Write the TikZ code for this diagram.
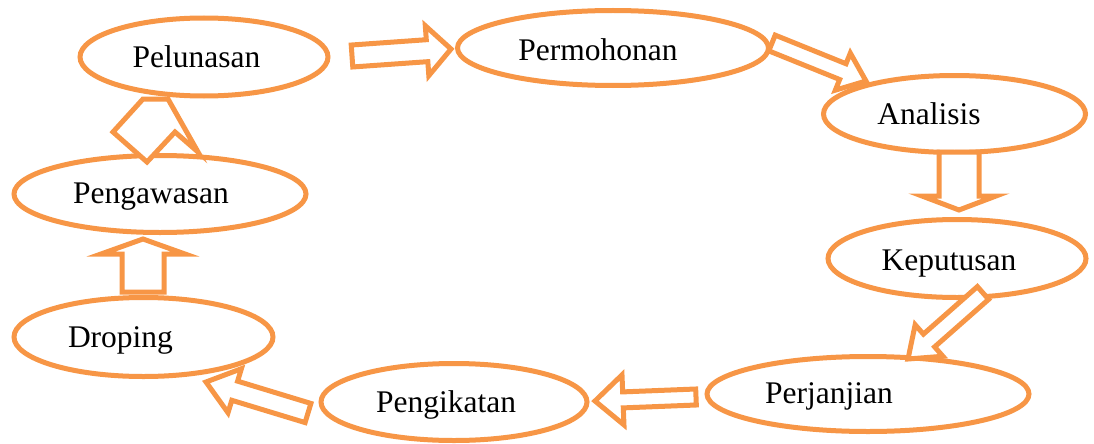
\documentclass[tikz,border=0pt]{standalone}
\usepackage{fontspec}
\setmainfont{Liberation Serif}
\usetikzlibrary{calc,shapes.geometric}
\definecolor{acc}{HTML}{F79646}
\tikzset{
  ell/.style={ellipse, draw=acc, line width=5pt, fill=white, inner sep=0pt},
  lbl/.style={anchor=base, font=\fontsize{31.5}{36}\selectfont, text=black, inner sep=0pt},
  barrow/.style={draw=acc, line width=5pt, fill=white, line join=miter},
}
% #1 tail, #2 tip, #3 shaft half width, #4 head half width, #5 head length
\newcommand\blockarrow[5]{%
  \coordinate (ba-n) at ($(#2)!#5!(#1)$);
  \filldraw[barrow] ($(#1)!#3!90:(#2)$) -- ($(ba-n)!#3!90:(#2)$) -- ($(ba-n)!#4!90:(#2)$)
    -- (#2) -- ($(ba-n)!#4!-90:(#2)$) -- ($(ba-n)!#3!-90:(#2)$) -- ($(#1)!#3!-90:(#2)$) -- cycle;
}
\begin{document}
\begin{tikzpicture}[x=1pt,y=-1pt]
\useasboundingbox (0,0) rectangle (1094,444);
% ellipses
\node[ell, minimum width=248pt, minimum height=78pt] (pel)  at (204,57) {};
\node[ell, minimum width=311pt, minimum height=75pt] (perm) at (613,48) {};
\node[ell, minimum width=262pt, minimum height=77pt] (ana)  at (954.5,114) {};
\node[ell, minimum width=258pt, minimum height=78pt] (kep)  at (957,258.5) {};
\node[ell, minimum width=322pt, minimum height=75pt] (perj) at (868,394) {};
\node[ell, minimum width=266pt, minimum height=77pt] (ikat) at (454,402) {};
\node[ell, minimum width=259pt, minimum height=79pt] (drop) at (143.5,337) {};
\node[ell, minimum width=292pt, minimum height=77pt] (awas) at (160,194) {};
% labels
\node[lbl] (tpel)  at (196.5,67) {Pelunasan};
\node[lbl] (tperm) at (598,60) {Permohonan};
\node[lbl] (tana)  at (929,124) {Analisis};
\node[lbl] (tkep)  at (949,270) {Keputusan};
\node[lbl] (tperj) at (829,403) {Perjanjian};
\node[lbl] (tikat) at (446,412) {Pengikatan};
\node[lbl] (tdrop) at (120.5,347) {Droping};
\node[lbl] (tawas) at (151,203) {Pengawasan};
% arrow end points
\coordinate (a1s) at (352,56);  \coordinate (a1e) at (451,49);
\coordinate (a2s) at (772,43);  \coordinate (a2e) at (866,81);
\coordinate (a3s) at (959,152); \coordinate (a3e) at (959,210);
\coordinate (a4s) at (983,293); \coordinate (a4e) at (908,359);
\coordinate (a5s) at (696,397); \coordinate (a5e) at (595,401);
\coordinate (a6s) at (308,413); \coordinate (a6e) at (206,382);
\coordinate (a7s) at (143,292); \coordinate (a7e) at (143,239);
% block arrows
\blockarrow{a1s}{a1e}{11pt}{25pt}{24pt}
\blockarrow{a2s}{a2e}{8.5pt}{20pt}{25pt}
\blockarrow{a3s}{a3e}{20pt}{37pt}{14pt}
\blockarrow{a4s}{a4e}{8.5pt}{21pt}{28pt}
\blockarrow{a5s}{a5e}{8pt}{25pt}{28pt}
\blockarrow{a6s}{a6e}{10pt}{23pt}{30pt}
\blockarrow{a7s}{a7e}{21pt}{42pt}{15pt}
% distorted arrow Pengawasan -> Pelunasan
\filldraw[barrow] (113,132) -- (143,99) -- (168,99) -- (198,152) -- (175,132) -- (147,162) -- cycle;
\end{tikzpicture}
\end{document}
